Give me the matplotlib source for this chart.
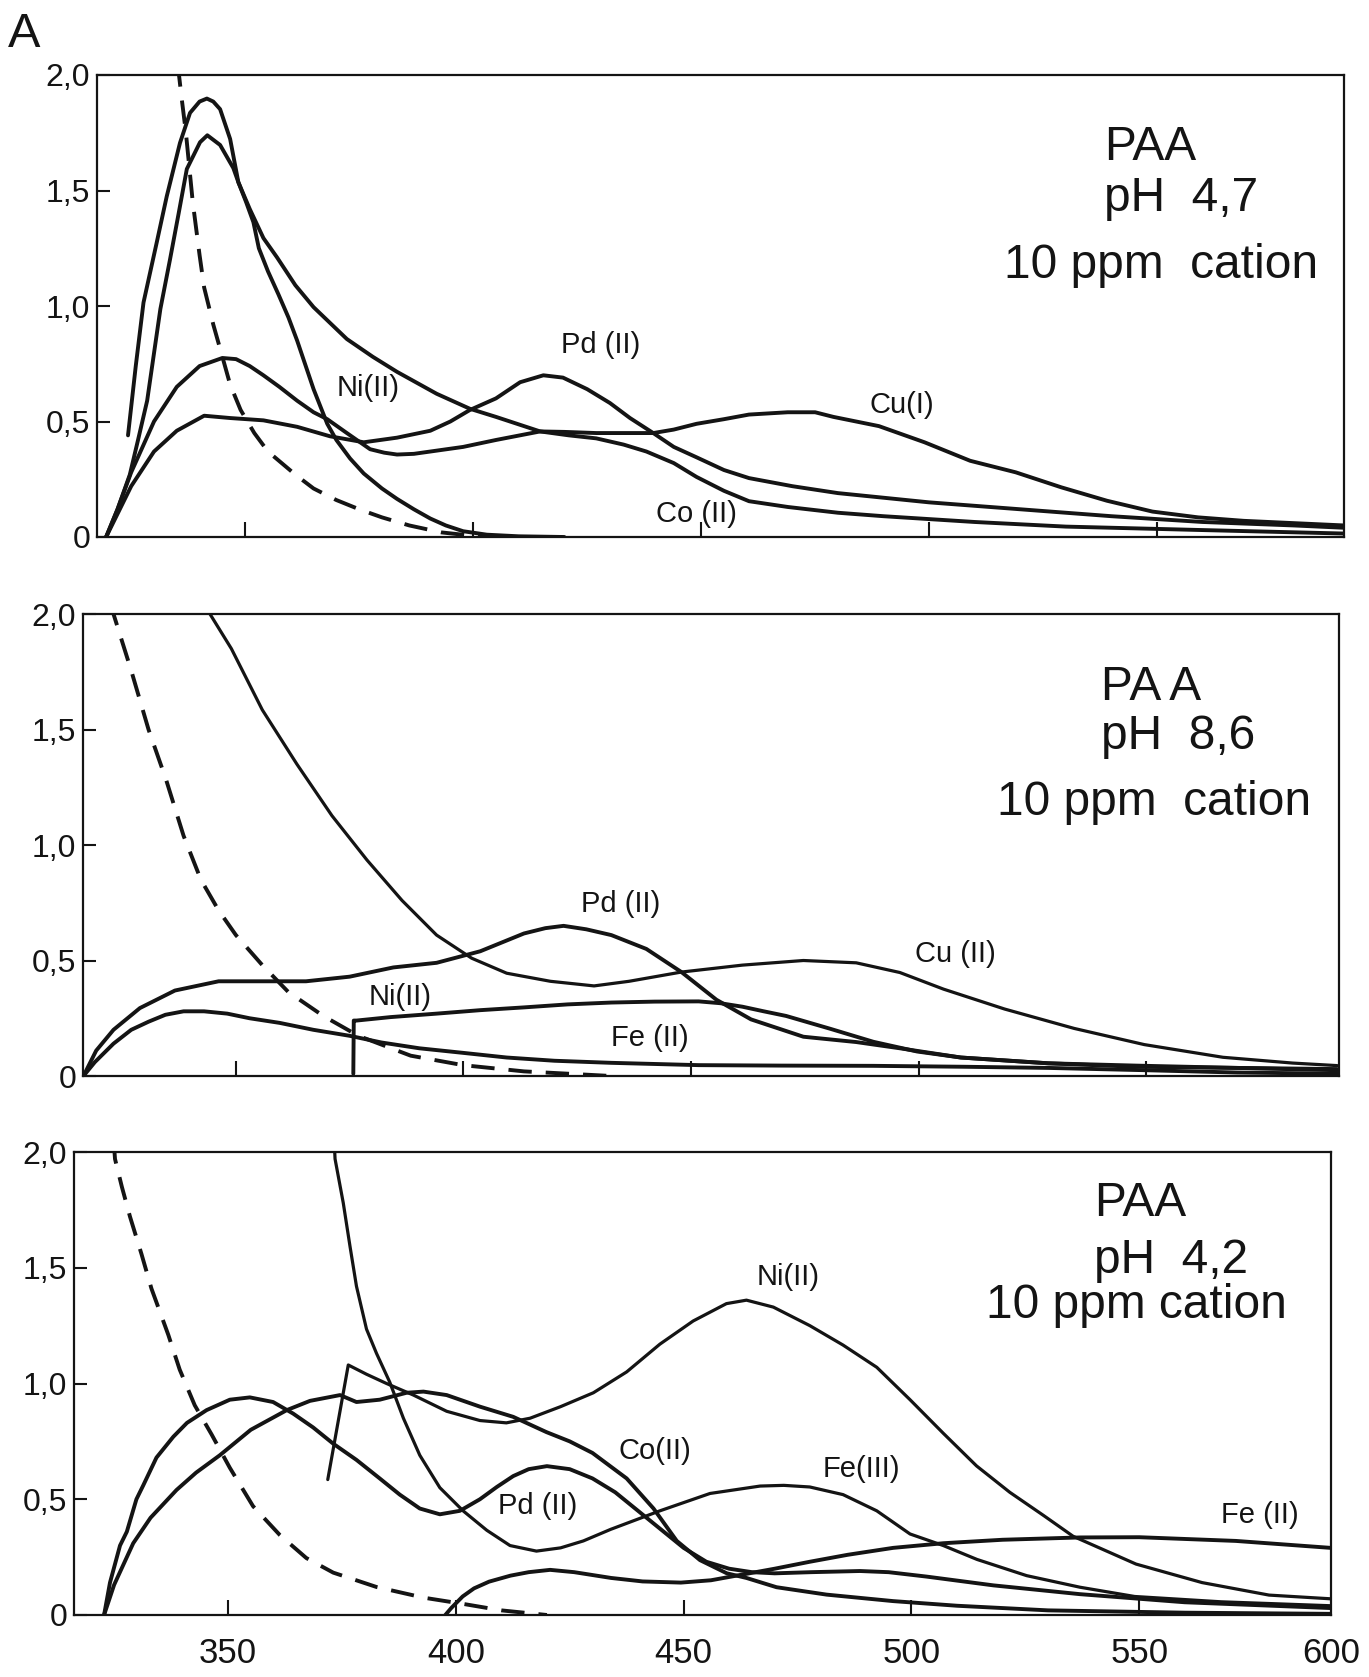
import matplotlib
matplotlib.use("Agg")
import matplotlib.pyplot as plt

# ---------------- data (wavelength nm, absorbance) ----------------
# Panel 1: PAA pH 4,7
P1_DASH_X = [335.2, 336.0, 337.0, 338.5, 340.0, 341.0, 343.0, 345.0, 346.7, 349.0, 352.0, 355.0, 358.0,
             361.0, 365.0, 370.0, 375.0, 380.0, 386.0, 393.0, 400.0, 410.0]
P1_DASH_Y = [2.05, 1.91, 1.75, 1.45, 1.22, 1.08, 0.92, 0.78, 0.66, 0.55, 0.45, 0.37, 0.32,
             0.27, 0.21, 0.16, 0.12, 0.085, 0.05, 0.02, 0.005, 0.0]
P1_NI_X = [324.3, 326.0, 327.7, 330.6, 332.8, 335.7, 337.9, 340.0, 341.6, 343.0, 344.5, 346.7, 348.5,
           350.2, 351.8, 353.0, 355.0, 357.3, 359.5, 361.4, 365.0, 368.0, 370.0, 373.0, 376.0, 380.0,
           383.3, 387.0, 390.6, 394.0, 397.8, 403.0, 410.0, 420.0]
P1_NI_Y = [0.44, 0.74, 1.015, 1.275, 1.475, 1.706, 1.836, 1.885, 1.898, 1.885, 1.852, 1.723, 1.536,
           1.45, 1.363, 1.25, 1.15, 1.05, 0.95, 0.85, 0.64, 0.49, 0.42, 0.34, 0.275, 0.21,
           0.165, 0.12, 0.08, 0.05, 0.025, 0.01, 0.003, 0.0]
P1_CO_X = [319.5, 322.0, 324.7, 326.5, 328.5, 331.4, 333.5, 335.4, 337.2, 340.1, 341.7, 344.5, 347.4,
           348.5, 351.0, 354.0, 357.0, 361.0, 365.0, 372.3, 378.0, 383.3, 392.0, 399.3, 405.0, 414.7,
           421.0, 427.0, 433.0, 438.0, 444.0, 449.0, 455.0, 460.5, 469.0, 480.0, 490.0, 510.0, 530.0,
           560.0, 591.0]
P1_CO_Y = [0.0, 0.12, 0.27, 0.42, 0.59, 0.987, 1.2, 1.40, 1.593, 1.709, 1.739, 1.697, 1.597,
           1.536, 1.42, 1.294, 1.21, 1.09, 0.995, 0.857, 0.78, 0.715, 0.62, 0.555, 0.52, 0.457,
           0.44, 0.427, 0.40, 0.37, 0.32, 0.26, 0.20, 0.155, 0.13, 0.105, 0.09, 0.065, 0.045,
           0.03, 0.015]
P1_CU_X = [319.5, 322.0, 325.0, 330.0, 335.0, 340.0, 345.0, 348.0, 351.0, 354.0, 357.5, 361.4, 365.0,
           368.0, 372.3, 377.4, 380.5, 383.3, 387.0, 390.6, 397.8, 405.0, 414.7, 420.0, 427.0, 433.0,
           439.5, 444.0, 449.0, 455.0, 460.5, 469.0, 475.0, 479.0, 489.0, 499.0, 509.0, 519.0, 529.0,
           539.0, 549.0, 559.0, 569.0, 580.0, 591.0]
P1_CU_Y = [0.0, 0.12, 0.28, 0.50, 0.65, 0.74, 0.775, 0.77, 0.74, 0.70, 0.65, 0.59, 0.54,
           0.51, 0.45, 0.38, 0.365, 0.357, 0.36, 0.37, 0.39, 0.42, 0.457, 0.455, 0.45, 0.45,
           0.45, 0.465, 0.49, 0.51, 0.53, 0.54, 0.54, 0.52, 0.48, 0.41, 0.33, 0.28, 0.215,
           0.157, 0.11, 0.085, 0.07, 0.06, 0.05]
P1_PD_X = [319.5, 322.0, 325.0, 330.0, 335.0, 341.0, 346.7, 354.0, 361.4, 368.6, 376.0, 383.3, 390.6,
           395.0, 399.3, 405.0, 410.3, 415.4, 419.7, 425.0, 430.0, 434.4, 439.5, 444.0, 449.0, 455.0,
           460.5, 470.0, 480.0, 500.0, 520.0, 540.0, 560.0, 580.0, 591.0]
P1_PD_Y = [0.0, 0.10, 0.22, 0.37, 0.46, 0.525, 0.515, 0.505, 0.477, 0.436, 0.41, 0.43, 0.46,
           0.50, 0.55, 0.60, 0.67, 0.70, 0.69, 0.64, 0.58, 0.515, 0.45, 0.39, 0.345, 0.29,
           0.255, 0.22, 0.19, 0.15, 0.12, 0.09, 0.065, 0.05, 0.04]

# Panel 2: PAA pH 8,6
P2_DASH_X = [322.8, 323.1, 327.0, 330.8, 334.7, 338.5, 342.3, 346.2, 350.0, 355.8, 361.5, 369.2,
             376.9, 388.4, 399.9, 413.3, 432.5]
P2_DASH_Y = [2.05, 2.0, 1.755, 1.50, 1.28, 1.04, 0.85, 0.717, 0.61, 0.48, 0.364, 0.26,
             0.174, 0.088, 0.047, 0.02, 0.0]
P2_CU_X = [343.5, 344.3, 349.0, 355.8, 363.4, 371.1, 378.8, 386.5, 394.1, 401.8, 409.5, 419.1, 428.7,
           436.4, 447.9, 461.3, 474.7, 486.3, 495.9, 505.5, 518.9, 534.2, 549.6, 566.9, 582.2, 592.0]
P2_CU_Y = [2.05, 2.0, 1.85, 1.585, 1.35, 1.127, 0.935, 0.76, 0.61, 0.51, 0.445, 0.41, 0.39,
           0.41, 0.45, 0.48, 0.50, 0.49, 0.448, 0.376, 0.29, 0.206, 0.136, 0.081, 0.056, 0.045]
P2_PD_X = [316.5, 319.3, 323.1, 328.9, 336.6, 346.2, 355.8, 365.4, 375.0, 384.6, 394.1, 403.7, 413.3,
           418.0, 422.0, 427.0, 432.5, 440.2, 447.9, 455.6, 463.2, 474.7, 486.3, 495.9, 509.3, 528.5,
           547.7, 570.0, 592.0]
P2_PD_Y = [0.0, 0.11, 0.20, 0.294, 0.37, 0.41, 0.41, 0.41, 0.43, 0.47, 0.49, 0.54, 0.617,
           0.64, 0.65, 0.635, 0.61, 0.55, 0.45, 0.33, 0.245, 0.17, 0.147, 0.12, 0.08, 0.055,
           0.04, 0.035, 0.03]
P2_FE_X = [316.5, 319.0, 323.1, 327.0, 330.8, 334.5, 338.5, 343.0, 348.1, 353.0, 359.6, 367.0, 375.0,
           382.0, 390.3, 400.0, 409.5, 420.0, 432.5, 451.7, 470.0, 490.0, 510.0, 528.5, 550.0, 570.0,
           592.0]
P2_FE_Y = [0.0, 0.06, 0.14, 0.20, 0.235, 0.265, 0.28, 0.28, 0.27, 0.25, 0.23, 0.20, 0.174,
           0.145, 0.12, 0.10, 0.08, 0.066, 0.057, 0.047, 0.045, 0.044, 0.04, 0.035, 0.025, 0.015,
           0.01]
P2_NI_X = [375.8, 375.9, 376.5, 384.0, 394.1, 403.7, 413.3, 422.9, 432.5, 442.0, 451.7, 456.5, 461.3,
           466.0, 470.9, 480.5, 490.1, 499.7, 509.3, 528.5, 547.7, 570.0, 592.0]
P2_NI_Y = [0.01, 0.24, 0.24, 0.255, 0.27, 0.285, 0.297, 0.31, 0.318, 0.322, 0.323, 0.315, 0.30,
           0.28, 0.26, 0.205, 0.148, 0.106, 0.08, 0.055, 0.045, 0.035, 0.025]

# Panel 3: PAA pH 4,2
P3_DASH_X = [324.9, 325.2, 326.7, 328.5, 331.0, 333.2, 336.9, 339.4, 342.7, 346.4, 350.4, 355.5,
             361.4, 367.2, 373.1, 382.6, 392.9, 401.6, 410.0, 420.0]
P3_DASH_Y = [2.05, 1.97, 1.85, 1.72, 1.56, 1.41, 1.21, 1.06, 0.906, 0.78, 0.636, 0.47,
             0.345, 0.246, 0.183, 0.121, 0.075, 0.048, 0.02, 0.0]
P3_FE3_X = [373.3, 373.5, 375.3, 376.8, 378.2, 380.4, 382.6, 385.5, 388.5, 392.1, 396.5, 401.6, 406.8,
            411.9, 417.7, 423.0, 428.0, 434.0, 444.8, 455.8, 466.8, 472.0, 477.7, 485.0, 492.4,
            499.7, 507.0, 514.4, 525.3, 537.0, 549.0, 568.0, 592.0]
P3_FE3_Y = [2.05, 1.97, 1.78, 1.59, 1.42, 1.235, 1.13, 1.006, 0.85, 0.69, 0.55, 0.45, 0.366,
            0.30, 0.276, 0.29, 0.32, 0.37, 0.45, 0.525, 0.557, 0.56, 0.553, 0.52, 0.45,
            0.35, 0.30, 0.24, 0.17, 0.12, 0.08, 0.057, 0.04]
P3_PD_X = [322.8, 324.1, 326.3, 327.8, 329.9, 331.4, 334.3, 338.0, 341.0, 345.3, 350.4, 354.8, 359.9,
           364.3, 368.7, 373.1, 378.2, 383.3, 387.7, 392.1, 396.5, 400.9, 405.3, 409.0, 412.6,
           416.0, 420.0, 425.0, 430.0, 435.0, 440.0, 445.0, 450.0, 455.0, 460.0, 465.0, 470.0,
           478.0, 488.7, 495.0, 503.3, 518.0, 537.0, 560.0, 592.0]
P3_PD_Y = [0.0, 0.14, 0.30, 0.36, 0.50, 0.56, 0.68, 0.77, 0.83, 0.885, 0.93, 0.94, 0.92,
           0.87, 0.81, 0.74, 0.67, 0.59, 0.52, 0.46, 0.435, 0.45, 0.50, 0.553, 0.60,
           0.63, 0.643, 0.63, 0.59, 0.53, 0.45, 0.37, 0.29, 0.23, 0.20, 0.185, 0.18,
           0.185, 0.19, 0.185, 0.166, 0.128, 0.09, 0.055, 0.03]
P3_CO_X = [322.8, 325.0, 329.2, 333.0, 338.7, 343.0, 348.2, 355.0, 362.9, 368.0, 374.6, 378.2, 383.3,
           389.2, 392.9, 398.0, 405.3, 412.6, 419.9, 425.0, 430.0, 437.5, 443.4, 448.5, 453.6,
           459.5, 463.8, 470.4, 481.4, 496.0, 510.0, 530.0, 560.0, 592.0]
P3_CO_Y = [0.0, 0.13, 0.31, 0.42, 0.54, 0.615, 0.69, 0.80, 0.885, 0.925, 0.95, 0.92, 0.93,
           0.96, 0.965, 0.95, 0.90, 0.856, 0.79, 0.75, 0.70, 0.59, 0.46, 0.32, 0.237,
           0.18, 0.16, 0.12, 0.088, 0.06, 0.04, 0.02, 0.01, 0.005]
P3_NI_X = [371.9, 376.4, 380.4, 384.8, 390.7, 398.0, 405.3, 411.1, 416.3, 423.0, 430.2, 437.5, 444.8,
           452.1, 459.4, 463.8, 469.7, 477.7, 485.0, 492.4, 499.7, 507.0, 514.3, 521.6, 529.0,
           535.5, 549.3, 563.8, 578.5, 592.0]
P3_NI_Y = [0.585, 1.08, 1.04, 1.0, 0.95, 0.88, 0.84, 0.83, 0.85, 0.90, 0.96, 1.05, 1.17,
           1.27, 1.345, 1.36, 1.33, 1.25, 1.166, 1.07, 0.93, 0.785, 0.644, 0.53, 0.43,
           0.34, 0.22, 0.14, 0.086, 0.07]
P3_FE2_X = [397.7, 399.0, 401.5, 404.0, 407.3, 412.0, 416.0, 420.7, 426.0, 434.1, 441.0, 449.4, 456.0,
            463.0, 470.0, 477.7, 486.0, 496.0, 507.0, 520.0, 537.0, 550.0, 571.2, 592.0]
P3_FE2_Y = [0.0, 0.03, 0.08, 0.115, 0.144, 0.17, 0.185, 0.195, 0.185, 0.16, 0.145, 0.14, 0.15,
            0.175, 0.20, 0.23, 0.26, 0.29, 0.31, 0.325, 0.335, 0.336, 0.32, 0.29]

# curve labels (text, wavelength, absorbance)
P1_LABELS = [("Ni(II)", 377, 0.645), ("Pd (II)", 428, 0.83), ("Cu(I)", 494, 0.57), ("Co (II)", 449, 0.10)]
P2_LABELS = [("Pd (II)", 434.5, 0.745), ("Cu (II)", 508, 0.53), ("Ni(II)", 386, 0.34), ("Fe (II)", 441, 0.165)]
P3_LABELS = [("Ni(II)", 473, 1.46), ("Co(II)", 443.6, 0.71), ("Pd (II)", 418, 0.47),
             ("Fe(III)", 489, 0.63), ("Fe (II)", 576.5, 0.43)]

PANEL_TEXT = [("PAA", "pH  4,7", "10 ppm  cation"),
              ("PA A", "pH  8,6", "10 ppm  cation"),
              ("PAA", "pH  4,2", "10 ppm cation")]

YTICKS = [0, 0.5, 1.0, 1.5, 2.0]
YTICK_LABELS = ["0", "0,5", "1,0", "1,5", "2,0"]
XTICKS = [350, 400, 450, 500, 550]
XTICK_LABELS = ["350", "400", "450", "500", "550"]
LAST_XLABEL = "600"

# ---------------- layout ----------------
W, H, DPI = 1369, 1677, 100
fig = plt.figure(figsize=(W / DPI, H / DPI), dpi=DPI, facecolor="white")

SANS = ["Liberation Sans", "DejaVu Sans"]
INK = "#141414"

# axes boxes in reference pixels: left, right, top, bottom
BOXES = [(97, 1344, 75, 537), (83, 1339, 614, 1076), (74, 1331, 1152, 1615)]
XLIMS = [(317.5, 591.0), (316.4, 592.4), (316.2, 592.1)]

axes = []
for (l, r, t, b), xl in zip(BOXES, XLIMS):
    ax = fig.add_axes([l / W, 1 - b / H, (r - l) / W, (b - t) / H])
    ax.set_xlim(*xl)
    ax.set_ylim(0, 2.0)
    for s in ax.spines.values():
        s.set_linewidth(1.6)
        s.set_color(INK)
    ax.set_yticks(YTICKS)
    ax.set_yticklabels(YTICK_LABELS, fontfamily=SANS, fontsize=23, color=INK)
    ax.tick_params(axis="y", direction="in", length=9, width=1.5, pad=5, colors=INK)
    ax.tick_params(axis="x", direction="in", length=11, width=1.5, colors=INK)
    axes.append(ax)

ax1, ax2, ax3 = axes
for ax in (ax1, ax2):
    ax.set_xticks(XTICKS)
    ax.set_xticklabels([])
ax3.set_xticks(XTICKS + [XLIMS[2][1]])
ax3.set_xticklabels(XTICK_LABELS + [LAST_XLABEL], fontfamily=SANS, fontsize=25, color=INK)
ax3.tick_params(axis="x", pad=16)
ax3.get_xticklines()[-2].set_visible(False)
ax3.get_xticklines()[-1].set_visible(False)

SOLID = dict(color=INK, lw=2.8, solid_joinstyle="round", solid_capstyle="round")
THIN = dict(color=INK, lw=2.3, solid_joinstyle="round", solid_capstyle="round")
DASH = dict(color=INK, lw=2.8, linestyle=(0, (6, 3.6)), dash_capstyle="butt")

ax1.plot(P1_DASH_X, P1_DASH_Y, **DASH)
ax1.plot(P1_NI_X, P1_NI_Y, **SOLID)
ax1.plot(P1_CO_X, P1_CO_Y, **SOLID)
ax1.plot(P1_CU_X, P1_CU_Y, **SOLID)
ax1.plot(P1_PD_X, P1_PD_Y, **SOLID)

ax2.plot(P2_DASH_X, P2_DASH_Y, **DASH)
ax2.plot(P2_CU_X, P2_CU_Y, **THIN)
ax2.plot(P2_PD_X, P2_PD_Y, **SOLID)
ax2.plot(P2_FE_X, P2_FE_Y, **SOLID)
ax2.plot(P2_NI_X, P2_NI_Y, **SOLID)

ax3.plot(P3_DASH_X, P3_DASH_Y, **DASH)
ax3.plot(P3_FE3_X, P3_FE3_Y, **THIN)
ax3.plot(P3_PD_X, P3_PD_Y, **SOLID)
ax3.plot(P3_CO_X, P3_CO_Y, **SOLID)
ax3.plot(P3_NI_X, P3_NI_Y, **THIN)
ax3.plot(P3_FE2_X, P3_FE2_Y, **SOLID)

for ax, labels in zip(axes, (P1_LABELS, P2_LABELS, P3_LABELS)):
    for txt, x, y in labels:
        ax.text(x, y, txt, ha="center", va="center", fontsize=21, fontfamily=SANS, color=INK)

# panel annotation blocks (reference pixel positions: x-left, baseline)
TEXT_POS = [((1104, 160), (1104, 211), (1004, 278)),
            ((1101, 700), (1101, 749), (997, 815)),
            ((1094, 1216), (1094, 1273), (986, 1318))]
for lines, poss in zip(PANEL_TEXT, TEXT_POS):
    for s, (px, py) in zip(lines, poss):
        fig.text(px / W, 1 - py / H, s, ha="left", va="baseline", fontsize=34.5,
                 fontfamily=SANS, color=INK)

fig.text(8 / W, 1 - 47 / H, "A", ha="left", va="baseline", fontsize=35, fontfamily=SANS, color=INK)

fig.savefig("out.png", dpi=DPI, facecolor="white")
